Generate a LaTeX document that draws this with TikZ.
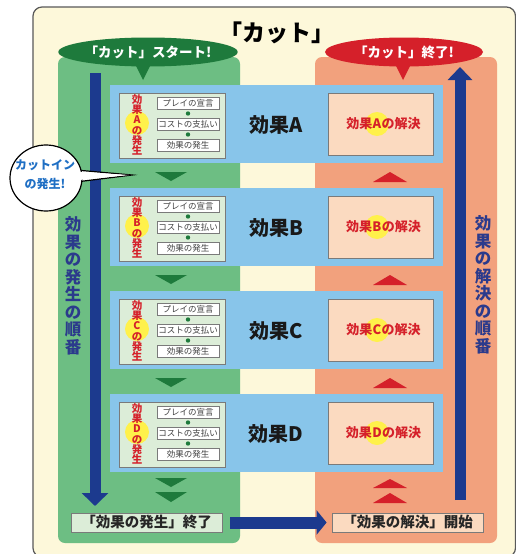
\documentclass[tikz,border=0pt]{standalone}
\usepackage{fontspec}
\setmainfont{Noto Sans CJK JP}
\usetikzlibrary{arrows.meta,shapes.geometric}
\definecolor{cream}{HTML}{FDF8DA}
\definecolor{gpanel}{HTML}{6DBE83}
\definecolor{spanel}{HTML}{F2A17D}
\definecolor{lblue}{HTML}{88C5EA}
\definecolor{lgbox}{HTML}{DCEDD8}
\definecolor{peach}{HTML}{FBDAC0}
\definecolor{dblue}{HTML}{1C3A8E}
\definecolor{dgreen}{HTML}{1E7A3C}
\definecolor{dred}{HTML}{D5202A}
\definecolor{yel}{HTML}{FFF14A}
\definecolor{vtext}{HTML}{2B3A8C}
\definecolor{ctext}{HTML}{1F6FC4}
\definecolor{bgray}{HTML}{7A7A7A}
\begin{document}
\begin{tikzpicture}[x=1pt,y=-1pt,
  smallbox/.style={draw=bgray,fill=white,line width=0.6pt,minimum width=62pt,minimum height=12pt,inner sep=0pt,font=\fontsize{8.5}{9}\selectfont,text=black!75},
  leftbox/.style={draw=bgray,fill=lgbox,line width=0.8pt,minimum width=106pt,minimum height=65pt,inner sep=0pt},
  rightbox/.style={draw=bgray,fill=peach,line width=0.8pt,minimum width=105pt,minimum height=62pt,inner sep=0pt},
  biglabel/.style={font=\bfseries\fontsize{20}{22}\selectfont,text=black!90},
  redlbl/.style={font=\bfseries\fontsize{13}{14}\selectfont,text=dred,inner sep=0pt},
  vlabel/.style={font=\bfseries\fontsize{10.5}{10.3}\selectfont,text=dred,align=center,inner sep=0pt},
  vblue/.style={font=\bfseries\fontsize{16.5}{17.5}\selectfont,text=vtext,align=center,inner sep=0pt},
  endbox/.style={draw=bgray,line width=0.8pt,minimum width=151pt,minimum height=19pt,inner sep=0pt,font=\bfseries\fontsize{14.5}{15}\selectfont,text=black!85},
  bigarrow/.style={draw=dblue,line width=11pt},
  gtri/.style={fill=dgreen},
  rtri/.style={fill=dred}
]
\useasboundingbox (0,0) rectangle (516,554);
\fill[white] (0,0) rectangle (516,554);
% frame
\draw[rounded corners=9pt,fill=cream,draw=black!65,line width=1.2pt] (33,7) rectangle (515.5,557);
% panels
\fill[gpanel,rounded corners=7pt] (58,57) rectangle (240,543);
\fill[spanel,rounded corners=7pt] (315,57) rectangle (497,543);
% title
\node[font=\bfseries\fontsize{23}{24}\selectfont] (title) at (277,33) {「カット」};
% ovals
\fill[dgreen] (133,60) -- (143,80) -- (153,60) -- cycle;
\node[ellipse,fill=dgreen,minimum width=164pt,minimum height=29pt,inner sep=0pt,text=white,font=\bfseries\fontsize{13.5}{14}\selectfont] (gstart) at (148,52) {「カット」スタート!};
\fill[dred] (393,60) -- (403,80) -- (413,60) -- cycle;
\node[ellipse,fill=dred,minimum width=158pt,minimum height=29pt,inner sep=0pt,text=white,font=\bfseries\fontsize{13.5}{14}\selectfont] (rend) at (404,52) {「カット」終了!};
% rows
\foreach \L/\yc in {A/124,B/227,C/330,D/433}{
  \fill[lblue] (110,\yc-39) rectangle (443,\yc+39);
  \node[leftbox] (lb\L) at (172,\yc+1.5) {};
  \node[smallbox] (s1\L) at (188,\yc-21) {プレイの宣言};
  \node[smallbox] (s2\L) at (188,\yc) {コストの支払い};
  \node[smallbox] (s3\L) at (188,\yc+21) {効果の発生};
  \fill[dgreen] (188,\yc-10.5) circle (2.2);
  \fill[dgreen] (188,\yc+10.5) circle (2.2);
  \fill[yel] (137,\yc-1) circle (12);
  \node[vlabel] (vl\L) at (137,\yc+1) {効\\果\\\L\\の\\発\\生};
  \node[biglabel] (big\L) at (276,\yc+1) {効果\L};
  \node[rightbox] (rb\L) at (380.5,\yc) {};
  \fill[yel] (377,\yc) circle (12);
  \node[redlbl] (ra\L) at (377,\yc) {\L};
  \node[redlbl,anchor=base east] (rb1\L) at (ra\L.base west) {効果};
  \node[redlbl,anchor=base west] (rb2\L) at (ra\L.base east) {の解決};
}
% between-row triangles
\foreach \y in {163,266,369}{
  \fill[gtri] (155,\y+9) -- (187,\y+9) -- (171,\y+18) -- cycle;
  \fill[rtri] (373,\y+19) -- (407,\y+19) -- (390,\y+9) -- cycle;
}
% bottom double triangles
\fill[gtri] (155,478) -- (187,478) -- (171,487) -- cycle;
\fill[gtri] (155,492) -- (187,492) -- (171,502) -- cycle;
\fill[rtri] (373,488) -- (407,488) -- (390,479) -- cycle;
\fill[rtri] (373,503) -- (407,503) -- (390,493) -- cycle;
% bottom boxes
\node[endbox,fill=lgbox] (gend) at (146.5,522.5) {「効果の発生」終了};
\node[endbox,fill=peach] (rstart) at (407.5,522.5) {「効果の解決」開始};
% arrows
\coordinate (lt) at (95,73);
\coordinate (lbt) at (95,506);
\coordinate (rtb) at (460,500);
\coordinate (rtt) at (460,67);
\draw[bigarrow,-{Triangle[width=26pt,length=13pt]}] (lt) -- (lbt);
\draw[bigarrow,-{Triangle[width=24pt,length=13pt]}] (rtb) -- (rtt);
\draw[draw=dblue,line width=12pt,-{Triangle[width=24pt,length=10pt]},shorten <=8pt,shorten >=5pt] (gend.east) -- (rstart.west);
% vertical texts
\node[vblue] (vleft) at (73,286) {効\\果\\の\\発\\生\\の\\順\\番};
\node[vblue] (vright) at (483,285) {効\\果\\の\\解\\決\\の\\順\\番};
% callout
\draw[fill=white,line width=1.2pt] (76,170) -- (132,175) -- (76,182) -- cycle;
\draw[fill=white,line width=1.2pt] (46,178) ellipse (36 and 33);
\fill[white] (74,171.5) -- (129,175) -- (74,180.5) -- cycle;
\node[font=\bfseries\fontsize{12}{19}\selectfont,text=ctext,align=center] (cutin) at (45,175) {カットイン\\の発生!};
\end{tikzpicture}
\end{document}
